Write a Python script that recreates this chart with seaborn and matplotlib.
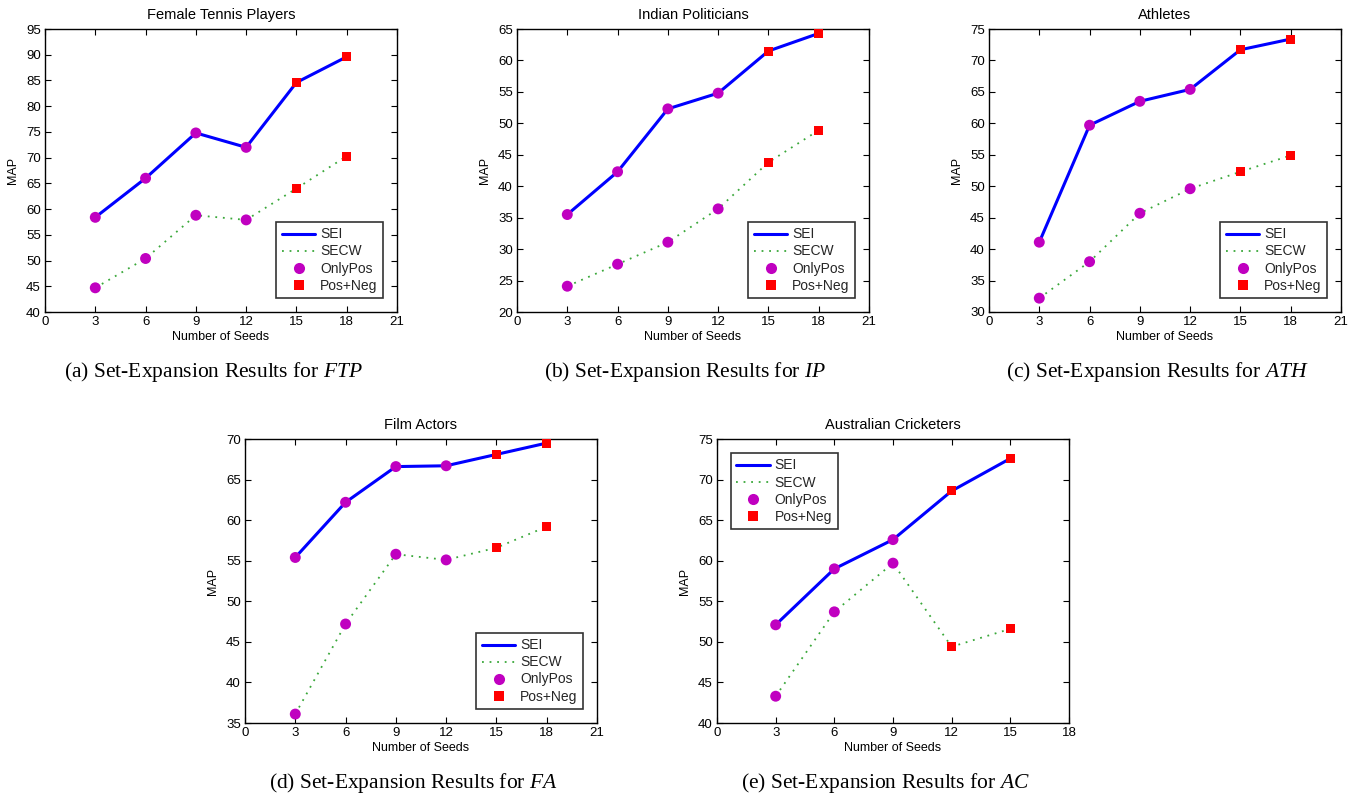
import numpy as np
import pandas as pd
import matplotlib
matplotlib.use("Agg")
import matplotlib.pyplot as plt
from matplotlib.lines import Line2D
import seaborn as sns

sns.set_theme(style="white")
plt.rcParams['font.family'] = ['Liberation Sans', 'DejaVu Sans']
plt.rcParams['mathtext.fontset'] = 'custom'
plt.rcParams['mathtext.rm'] = 'Liberation Serif'
plt.rcParams['mathtext.it'] = 'Liberation Serif:italic'

# ---- data ----
seeds_a = [3, 6, 9, 12, 15, 18]
seeds_e = [3, 6, 9, 12, 15]

ftp_sei = [58.4, 66.0, 74.8, 72.0, 84.6, 89.6]
ftp_secw = [44.7, 50.4, 58.8, 57.9, 64.0, 70.3]

ip_sei = [35.5, 42.3, 52.3, 54.8, 61.5, 64.3]
ip_secw = [24.1, 27.6, 31.1, 36.4, 43.8, 48.9]

ath_sei = [41.1, 59.7, 63.5, 65.4, 71.7, 73.4]
ath_secw = [32.2, 38.0, 45.7, 49.6, 52.3, 54.9]

fa_sei = [55.4, 62.2, 66.6, 66.7, 68.1, 69.5]
fa_secw = [36.1, 47.2, 55.8, 55.1, 56.6, 59.2]

ac_sei = [52.1, 59.0, 62.6, 68.6, 72.6]
ac_secw = [43.3, 53.7, 59.7, 49.4, 51.6]

titles = ["Female Tennis Players", "Indian Politicians", "Athletes", "Film Actors", "Australian Cricketers"]
abbrevs = ["FTP", "IP", "ATH", "FA", "AC"]
letters = ["a", "b", "c", "d", "e"]
ylims = [(40, 95), (20, 65), (30, 75), (35, 70), (40, 75)]
xmaxs = [21, 21, 21, 21, 18]
n_pos = [4, 4, 4, 4, 3]   # number of OnlyPos points (rest Pos+Neg)
legend_locs = ["lower right"] * 4 + ["upper left"]

panels = [
    (seeds_a, ftp_sei, ftp_secw),
    (seeds_a, ip_sei, ip_secw),
    (seeds_a, ath_sei, ath_secw),
    (seeds_a, fa_sei, fa_secw),
    (seeds_e, ac_sei, ac_secw),
]

W, H = 1362, 797
fig = plt.figure(figsize=(W / 100, H / 100), dpi=100)

# axes boxes in pixels: left, top, right, bottom
boxes = [
    (45, 29, 397, 312),
    (517, 29, 869, 312),
    (989, 29, 1341, 312),
    (245, 439, 597, 723),
    (717, 439, 1069, 723),
]

BLUE = "#0000ff"
GREEN = "#3aa83a"

for i, (x, sei, secw) in enumerate(panels):
    l, t, r, b = boxes[i]
    ax = fig.add_axes([l / W, 1 - b / H, (r - l) / W, (b - t) / H])
    df = pd.DataFrame({"seeds": x, "SEI": sei, "SECW": secw})
    sns.lineplot(data=df, x="seeds", y="SEI", ax=ax, color=BLUE, lw=2.2)
    sns.lineplot(data=df, x="seeds", y="SECW", ax=ax, color=GREEN, lw=1.3,
                 linestyle=(0, (1, 3.2)))
    k = n_pos[i]
    pos = pd.DataFrame({"seeds": x[:k] * 2, "v": sei[:k] + secw[:k]})
    neg = pd.DataFrame({"seeds": x[k:] * 2, "v": sei[k:] + secw[k:]})
    sns.scatterplot(data=pos, x="seeds", y="v", ax=ax, color="#c000c0", marker="o",
                    s=62, edgecolor="none", zorder=5)
    sns.scatterplot(data=neg, x="seeds", y="v", ax=ax, color="#ff0000", marker="s",
                    s=42, edgecolor="none", zorder=5)

    ax.set_xlim(0, xmaxs[i])
    ax.set_ylim(*ylims[i])
    ax.set_xticks(np.arange(0, xmaxs[i] + 1, 3))
    ax.set_yticks(np.arange(ylims[i][0], ylims[i][1] + 1, 5))
    ax.tick_params(direction="in", top=True, right=True, bottom=True, left=True,
                   length=4, width=0.8, labelsize=9.5, colors="black", pad=3)
    for s in ax.spines.values():
        s.set_color("black")
        s.set_linewidth(1.0)
    ax.set_title(titles[i], fontsize=10.5, pad=7, color="black")
    ax.set_xlabel("Number of Seeds", fontsize=9, labelpad=2, color="black")
    ax.set_ylabel("MAP", fontsize=9, labelpad=5, color="black")

    handles = [
        Line2D([], [], color=BLUE, lw=2.2),
        Line2D([], [], color=GREEN, lw=1.3, linestyle=(0, (1, 3.2))),
        Line2D([], [], color="#c000c0", marker="o", ls="none", markersize=8, markeredgewidth=0),
        Line2D([], [], color="#ff0000", marker="s", ls="none", markersize=6.5, markeredgewidth=0),
    ]
    leg = ax.legend(handles, ["SEI", "SECW", "OnlyPos", "Pos+Neg"], loc=legend_locs[i],
                    fontsize=10, frameon=True, fancybox=False, borderaxespad=1.0,
                    handlelength=2.4, labelspacing=0.22, borderpad=0.4, handletextpad=0.35)
    leg.get_frame().set_edgecolor("black")
    leg.get_frame().set_linewidth(1.2)

    # caption
    cx = ((l + r) / 2 - 8) / W
    cy = 1 - (b + 60) / H
    fig.text(cx, cy, f"({letters[i]}) Set-Expansion Results for $\\mathit{{{abbrevs[i]}}}$",
             ha="center", va="center", fontsize=15.5, family="Liberation Serif", color="black")

fig.savefig("out.png", dpi=100, facecolor="white")
